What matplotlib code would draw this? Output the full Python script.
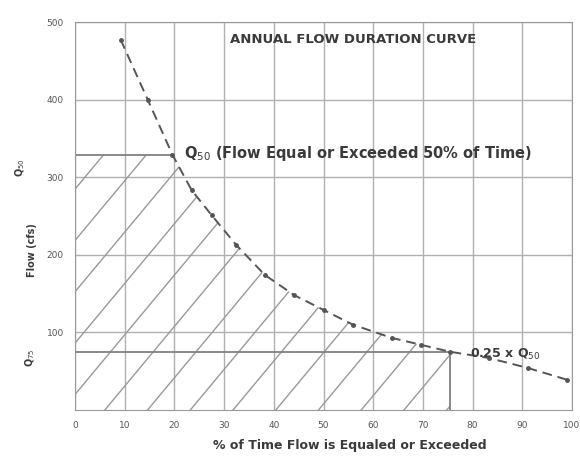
import numpy as np
import matplotlib
matplotlib.use("Agg")
import matplotlib.pyplot as plt

# flow duration curve
pct_exceed = [9.2, 14.7, 19.6, 23.5, 27.5, 32.4, 38.2, 44.1, 50.0, 55.9, 63.7, 69.6, 75.5, 83.3, 91.2, 99.0]
flow_cfs = [477, 399, 329, 283, 251, 213, 174, 148, 129, 110, 93, 84, 75, 67, 54, 39]

q50_flow = 329
q50_pct = 19.6
low_flow = 75
low_pct = 75.5

x_ticks = [0, 10, 20, 30, 40, 50, 60, 70, 80, 90, 100]
y_ticks = [100, 200, 300, 400, 500]

fig = plt.figure(figsize=(5.8, 4.59), dpi=100)
ax = fig.add_axes([75 / 580, 49 / 459, 497 / 580, 388 / 459])

ax.set_xlim(0, 100)
ax.set_ylim(0, 500)
ax.set_xticks(x_ticks)
ax.set_yticks(y_ticks)
ax.tick_params(labelsize=6.5, colors="#555555", length=0, pad=8)
ax.grid(True, color="#b0b0b0", linewidth=1.0)
for s in ax.spines.values():
    s.set_color("#999999")

# hatched area under the curve, capped at Q50, up to the low-flow point
xs = np.array(pct_exceed)
ys = np.array(flow_cfs)
xa = np.concatenate([[0], xs[(xs > 0) & (xs <= low_pct)]])
ya = np.interp(xa, xs, ys)
ya = np.minimum(ya, q50_flow)
ya[0] = q50_flow
poly = ax.fill_between(xa, 0, ya, facecolor="none", edgecolor="none")

# sparse diagonal hatch lines clipped to the area
clip = poly.get_paths()[0]
for x0 in np.arange(-80, 100, 8.6):
    ln, = ax.plot([x0, x0 + 78], [0, 600], color="#999999", linewidth=1.0)
    ln.set_clip_path(clip, ax.transData)

ax.plot([0, q50_pct], [q50_flow, q50_flow], color="#808080", linewidth=1.3)
ax.plot([0, low_pct], [low_flow, low_flow], color="#808080", linewidth=1.3)
ax.plot([low_pct, low_pct], [0, low_flow], color="#808080", linewidth=1.3)

ax.plot(pct_exceed, flow_cfs, color="#555555", linewidth=1.4, linestyle=(0, (5, 3)),
        marker="o", markersize=2.5)

txt = "#3a3a3a"
ax.text(56, 478, "ANNUAL FLOW DURATION CURVE", fontsize=9.5, color=txt,
        ha="center", va="center", fontweight="bold")
ax.text(22, 331, "Q$_{50}$ (Flow Equal or Exceeded 50% of Time)", fontsize=10.5,
        color=txt, ha="left", va="center", fontweight="bold")
ax.text(79.5, 72, "0.25 x Q$_{50}$", fontsize=9, color=txt, ha="left", va="center",
        fontweight="bold")

fig.text(350 / 580, 1 - 445 / 459, "% of Time Flow is Equaled or Exceeded", fontsize=9,
         color=txt, ha="center", va="center", fontweight="bold")
fig.text(32 / 580, 1 - 250 / 459, "Flow (cfs)", fontsize=7, color=txt, rotation=90,
         ha="center", va="center", fontweight="bold")
fig.text(20 / 580, 1 - 168 / 459, "Q$_{50}$", fontsize=7, color=txt, rotation=90,
         ha="center", va="center", fontweight="bold")
fig.text(30 / 580, 1 - 358 / 459, "Q$_{75}$", fontsize=7, color=txt, rotation=90,
         ha="center", va="center", fontweight="bold")

fig.savefig("out.png", dpi=100)
